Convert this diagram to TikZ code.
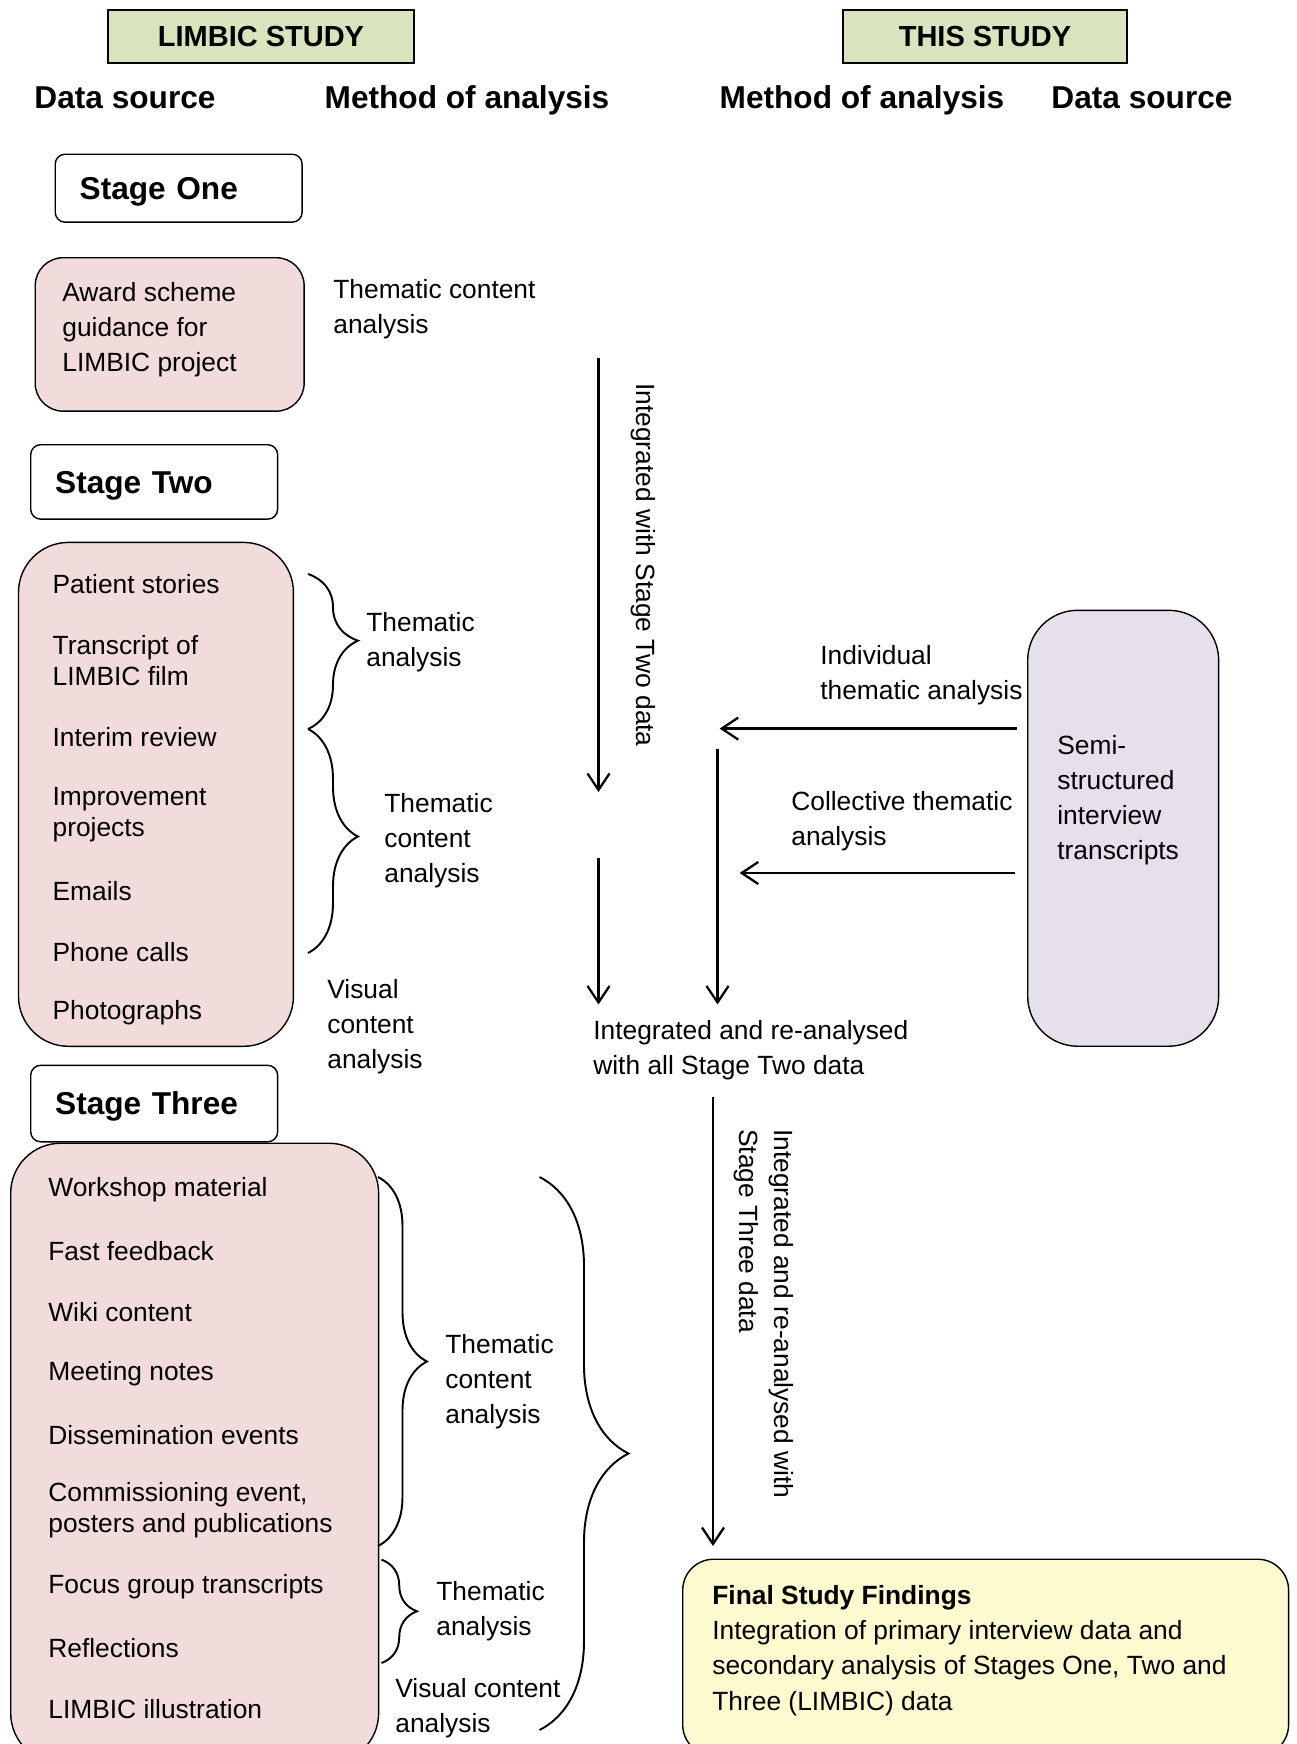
\documentclass[tikz,border=0pt]{standalone}
\usepackage{fontspec}
\setmainfont{Liberation Sans}
\usetikzlibrary{positioning,arrows.meta,decorations.pathreplacing}

\definecolor{headgreen}{RGB}{215,228,189}
\definecolor{datapink}{RGB}{242,220,219}
\definecolor{semililac}{RGB}{229,224,236}
\definecolor{finalyellow}{RGB}{252,250,206}

\begin{document}
\begin{tikzpicture}[x=0.02cm, y=-0.02cm,
      font=\fontsize{15}{20}\selectfont,
      headbox/.style={rectangle, draw, thick, fill=headgreen, minimum height=1.06cm,
        font=\fontsize{16.5}{20}\selectfont\bfseries},
      colhead/.style={yshift=-0.035cm, text height=13pt, text depth=3.8pt,
        font=\fontsize{18}{22}\selectfont\bfseries},
      stagebox/.style={rectangle, rounded corners=0.2cm, draw, thick, anchor=north west,
        minimum width=4.94cm, text width=3.96cm, inner xsep=0.49cm, align=left,
        text height=16.7pt, text depth=3.8pt, font=\fontsize{18}{22}\selectfont\bfseries},
      databox/.style={rectangle, rounded corners=1cm, draw, thick, fill=datapink, anchor=north west},
      txt/.style={anchor=west, align=left, inner sep=0pt, yshift=-0.06cm},
      listitem/.style={txt, font=\fontsize{15}{17.5}\selectfont},
      flow/.style={-{Straight Barb[length=3.3mm,width=4.4mm]}, line width=1.3pt},
      curly/.style={decorate, decoration={brace, amplitude=#1}, line width=1.1pt}]

    \useasboundingbox (0,0) rectangle (1296,1744);

    % headings
    \node[headbox, minimum width=6.12cm] (limbic) at (261,36.5) {LIMBIC STUDY};
    \node[headbox, minimum width=5.68cm] (this) at (985,36.5) {THIS STUDY};

    \node[colhead] (srcL) at (125,99) {Data source};
    \node[colhead] (methL) at (467,99) {Method of analysis};
    \node[colhead] (methR) at (862,99) {Method of analysis};
    \node[colhead] (srcR) at (1142,99) {Data source};

    % stage one
    \node[stagebox, minimum height=1.36cm] (one) at (54.5,153.5) {Stage One};
    \node[databox, rounded corners=0.56cm, minimum width=5.38cm, minimum height=3.07cm] (award) at (34.5,257) {};
    \node[txt] (awardtxt) at (62,327) {Award scheme\\guidance for\\LIMBIC project};
    \node[txt] (tca1) at (333,306.5) {Thematic content\\analysis};

    % stage two
    \node[stagebox, minimum height=1.49cm] (two) at (30,444) {Stage Two};
    \node[databox, minimum width=5.5cm, minimum height=10.08cm] (twodata) at (17.8,541.7) {};
    \node[listitem] (patient) at (52.3,580.7) {Patient stories};
    \node[listitem] (film) at (52.3,657.4) {Transcript of\\LIMBIC film};
    \node[listitem] (interim) at (52.3,734) {Interim review};
    \node[listitem] (improve) at (52.3,812) {Improvement\\projects};
    \node[listitem] (emails) at (52.3,887.7) {Emails};
    \node[listitem] (phone) at (52.3,949) {Phone calls};
    \node[listitem] (photos) at (52.3,1010) {Photographs};

    \coordinate (b1top) at (308,574);
    \coordinate (b1bot) at (308,729);
    \coordinate (b2bot) at (308,953);
    \draw[curly=1cm, decoration={aspect=0.43}] (b1top) -- (b1bot);
    \draw[curly=1cm, decoration={aspect=0.48}] (b1bot) -- (b2bot);

    \node[txt] (ta2) at (366,639.5) {Thematic\\analysis};
    \node[txt] (tca2) at (384,837.6) {Thematic\\content\\analysis};
    \node[txt] (vca2) at (327,1024) {Visual\\content\\analysis};

    % this study
    \node[databox, fill=semililac, minimum width=3.82cm, minimum height=8.72cm] (semi) at (1027,609.6) {};
    \node[txt] (semitxt) at (1057,797) {Semi-\\structured\\interview\\transcripts};
    \node[txt] (indiv) at (820,672) {Individual\\thematic analysis};
    \node[txt] (collect) at (791,818) {Collective thematic\\analysis};
    \node[txt] (reanal) at (593,1047) {Integrated and re-analysed\\with all Stage Two data};

    \coordinate (a1s) at (598.5,358);
    \coordinate (a1e) at (598.5,792);
    \coordinate (a2s) at (598.5,858);
    \coordinate (a2e) at (598.5,1004.5);
    \coordinate (a3s) at (717.5,748.6);
    \coordinate (a3e) at (717.5,1004.5);
    \coordinate (h1s) at (1017,728.6);
    \coordinate (h1e) at (719.7,728.6);
    \coordinate (h2s) at (1014.5,873);
    \coordinate (h2e) at (739.7,873);
    \coordinate (a4s) at (713,1097);
    \coordinate (a4e) at (713,1546);

    \draw[flow] (a1s) -- (a1e);
    \draw[flow] (a2s) -- (a2e);
    \draw[flow] (a3s) -- (a3e);
    \draw[flow] (h1s) -- (h1e);
    \draw[flow] (h2s) -- (h2e);
    \draw[flow] (a4s) -- (a4e);

    \node[anchor=west, align=left, inner sep=0pt, rotate=-90] (withtwo) at (643,383) {Integrated with Stage Two data};
    \node[anchor=west, align=left, inner sep=0pt, rotate=-90] (withthree) at (764,1129) {Integrated and re-analysed with\\Stage Three data};

    % stage three
    \node[stagebox, minimum height=1.53cm] (three) at (30,1064.6) {Stage Three};
    \node[databox, minimum width=7.36cm, minimum height=12.4cm] (threedata) at (10,1142.5) {};
    \node[listitem] (workshop) at (48,1187) {Workshop material};
    \node[listitem] (fast) at (48,1248) {Fast feedback};
    \node[listitem] (wiki) at (48,1309) {Wiki content};
    \node[listitem] (meeting) at (48,1370.5) {Meeting notes};
    \node[listitem] (dissem) at (48,1431.7) {Dissemination events};
    \node[listitem] (commis) at (48,1507.5) {Commissioning event,\\posters and publications};
    \node[listitem] (focus) at (48,1584) {Focus group transcripts};
    \node[listitem] (reflect) at (48,1645) {Reflections};
    \node[listitem] (illus) at (48,1706.5) {LIMBIC illustration};

    \coordinate (bAtop) at (378,1177);
    \coordinate (bAbot) at (378,1546);
    \coordinate (bBtop) at (381.5,1559.6);
    \coordinate (bBbot) at (381.5,1663);
    \coordinate (bCtop) at (539.5,1177);
    \coordinate (bCbot) at (539.5,1730);
    \draw[curly=0.98cm] (bAtop) -- (bAbot);
    \draw[curly=0.71cm] (bBtop) -- (bBbot);
    \draw[curly=1.78cm] (bCtop) -- (bCbot);

    \node[txt] (tca3) at (445,1379) {Thematic\\content\\analysis};
    \node[txt] (ta3) at (436,1608) {Thematic\\analysis};
    \node[txt] (vca3) at (395,1705) {Visual content\\analysis};

    % findings
    \node[databox, fill=finalyellow, rounded corners=0.62cm, minimum width=12.12cm, minimum height=3.93cm] (final) at (682,1558.5) {};
    \node[txt] (finaltxt) at (712,1647.5) {\textbf{Final Study Findings}\\Integration of primary interview data and\\secondary analysis of Stages One, Two and\\Three (LIMBIC) data};

  \end{tikzpicture}
\end{document}
